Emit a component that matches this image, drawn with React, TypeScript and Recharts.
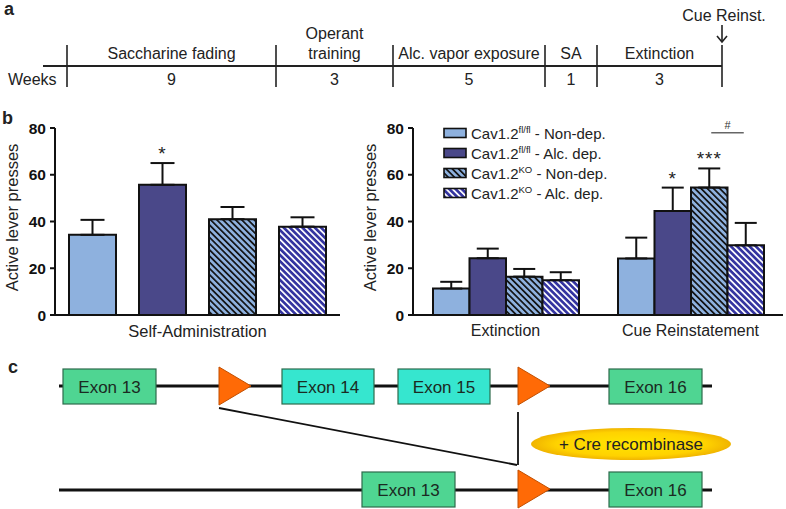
import React from 'react';
import { BarChart, Bar, XAxis, YAxis, ErrorBar, LabelList, Legend } from 'recharts';

const FONT = '"Liberation Sans", Arial, Helvetica, sans-serif';

// ---- panel a: timeline ----
const phaseLabels = [['Saccharine fading'], ['Operant', 'training'], ['Alc. vapor exposure'], ['SA'], ['Extinction']];
const phaseWeeks = ['9', '3', '5', '1', '3'];
const phaseEdges = [67, 276, 393, 545, 597, 722]; // x of the separators

// ---- panel b: bar charts ----
const seriesGeno = ['fl/fl', 'fl/fl', 'KO', 'KO'];
const seriesCond = ['Non-dep.', 'Alc. dep.', 'Non-dep.', 'Alc. dep.'];
const yTicks = [0, 20, 40, 60, 80];

const saCategories = ['Self-Administration'];
const saMeans = [[34.3, 55.7, 41.0, 37.8]];
const saErrors = [[6.4, 9.3, 5.2, 4.0]];
const saStars = [['', '*', '', '']];

const phaseCategories = ['Extinction', 'Cue Reinstatement'];
const phaseMeans = [
  [11.3, 24.3, 16.4, 14.9],
  [24.2, 44.5, 54.5, 29.8],
];
const phaseErrors = [
  [2.9, 4.1, 3.3, 3.4],
  [8.9, 10.0, 8.2, 9.6],
];
const phaseStars = [
  ['', '', '', ''],
  ['', '*', '***', ''],
];
const hashLevel = 78; // "#" bracket KO non-dep vs KO alc dep, cue reinstatement

const barFills = ['#8eb1de', '#4a4889', 'url(#hatchLight)', 'url(#hatchDark)'];

function buildRows(cats: string[], means: number[][], errs: number[][], stars: string[][]) {
  return cats.map((name, c) => {
    const row: any = { name };
    means[c].forEach((m, i) => {
      row[`s${i}`] = m;
      row[`e${i}`] = [0, errs[c][i]];
      row[`a${i}`] = stars[c][i];
    });
    return row;
  });
}

const saRows = buildRows(saCategories, saMeans, saErrors, saStars);
const phaseRows = buildRows(phaseCategories, phaseMeans, phaseErrors, phaseStars);

const starLabel = (rows: any[], i: number) => (props: any) => {
  const { x, y, width, height, index } = props;
  const row = rows[index];
  if (!row || !row[`a${i}`]) return null;
  const unit = Number(height) / row[`s${i}`];
  const top = Number(y) - row[`e${i}`][1] * unit;
  return (
    <text x={Number(x) + Number(width) / 2} y={top - 3} textAnchor="middle" fontSize={19}
      fontFamily={FONT} fill="#222" letterSpacing={1}>
      {row[`a${i}`]}
    </text>
  );
};

const hashLabel = (props: any) => {
  const { x, y, width, height, index } = props;
  if (index !== 1) return null;
  const row = phaseRows[index];
  const unit = Number(height) / row.s2;
  const ly = Number(y) + Number(height) - hashLevel * unit;
  const w = Number(width);
  return (
    <g>
      <line x1={Number(x) + w / 2 + 2} x2={Number(x) + w * 1.5 - 2} y1={ly} y2={ly} stroke="#666" strokeWidth={1.5} />
      <text x={Number(x) + w} y={ly - 4} textAnchor="middle" fontSize={11} fontFamily={FONT} fill="#333">#</text>
    </g>
  );
};

const yLabel = (dx: number) => (props: any) => {
  const vb = props.viewBox || {};
  const cx = vb.x + dx;
  const cy = vb.y + vb.height / 2 - 4;
  return (
    <text x={cx} y={cy} transform={`rotate(-90 ${cx} ${cy})`} textAnchor="middle" dominantBaseline="central"
      fontSize={16.5} fontFamily={FONT} fill="#222">
      Active lever presses
    </text>
  );
};

const renderLegend = () => (
  <div style={{ fontFamily: FONT, fontSize: 15, color: '#222' }}>
    {seriesGeno.map((g, i) => (
      <div key={i} style={{ display: 'flex', alignItems: 'center', height: 20, whiteSpace: 'nowrap' }}>
        <svg width={24} height={12} style={{ marginRight: 4 }}>
          <rect x={1} y={1.5} width={22} height={9} fill={barFills[i]} stroke="#111" strokeWidth={1.6} />
        </svg>
        <span>
          Cav1.2<sup style={{ fontSize: 9.5, verticalAlign: 'super', lineHeight: 0 }}>{g}</sup> - {seriesCond[i]}
        </span>
      </div>
    ))}
  </div>
);

const axisStroke = { stroke: '#111', strokeWidth: 2 };

function Bars(rows: any[], barSize: number, cap: number, withHash: boolean) {
  return [0, 1, 2, 3].map((i) => (
    <Bar key={i} dataKey={`s${i}`} name={`${seriesGeno[i]} ${seriesCond[i]}`} fill={barFills[i]}
      stroke="#111" strokeWidth={2} barSize={barSize} isAnimationActive={false}>
      <ErrorBar dataKey={`e${i}`} width={cap} stroke="#111" strokeWidth={2} direction="y" isAnimationActive={false} />
      <LabelList dataKey={`a${i}`} content={starLabel(rows, i)} />
      {withHash && i === 2 ? <LabelList dataKey="s2" content={hashLabel} /> : null}
    </Bar>
  ));
}

function Timeline() {
  return (
    <g fontFamily={FONT} fill="#222">
      <text x={4} y={15} fontSize={18} fontWeight={700}>a</text>
      <line x1={43} x2={722} y1={66} y2={66} stroke="#222" strokeWidth={2} />
      {phaseEdges.map((x, k) => (
        <line key={k} x1={x} x2={x} y1={45} y2={87} stroke="#222" strokeWidth={1.6} />
      ))}
      <text x={8} y={85} fontSize={16}>Weeks</text>
      {phaseLabels.map((lines, k) => {
        const cx = (phaseEdges[k] + phaseEdges[k + 1]) / 2;
        const base = lines.length === 2 ? 39 : 59;
        return (
          <g key={k}>
            {lines.map((t, j) => (
              <text key={j} x={cx} y={base + j * 20} textAnchor="middle" fontSize={16}>{t}</text>
            ))}
            <text x={cx} y={85} textAnchor="middle" fontSize={16}>{phaseWeeks[k]}</text>
          </g>
        );
      })}
      <text x={724} y={21} textAnchor="middle" fontSize={16}>Cue Reinst.</text>
      <line x1={722} x2={722} y1={25} y2={42} stroke="#222" strokeWidth={1.6} />
      <polyline points="717,36 722,42 727,36" fill="none" stroke="#222" strokeWidth={1.6} />
      <text x={2} y={124} fontSize={18} fontWeight={700}>b</text>
    </g>
  );
}

function Exon({ x, y, w, h, label, fill }: any) {
  return (
    <g>
      <rect x={x} y={y} width={w} height={h} fill={fill} stroke="#2e6b4c" strokeWidth={1.2} />
      <text x={x + w / 2} y={y + h / 2 + 6} textAnchor="middle" fontSize={17} fill="#1b2a22" fontFamily={FONT}>{label}</text>
    </g>
  );
}

function LoxP({ x, y }: any) {
  return <polygon points={`${x},${y} ${x + 32},${y + 19} ${x},${y + 38}`} fill="#ff6a06" stroke="#c24f00" strokeWidth={1} />;
}

function Construct() {
  const green = '#4fd592';
  const cyan = '#36e6cf';
  return (
    <g fontFamily={FONT}>
      <text x={8} y={373} fontSize={18} fontWeight={700} fill="#222">c</text>
      <line x1={59} x2={712} y1={386} y2={386} stroke="#111" strokeWidth={3} />
      <Exon x={63} y={369} w={93} h={35} label="Exon 13" fill={green} />
      <LoxP x={219} y={367} />
      <Exon x={282} y={369} w={92} h={35} label="Exon 14" fill={cyan} />
      <Exon x={398} y={369} w={92} h={35} label="Exon 15" fill={cyan} />
      <LoxP x={518} y={367} />
      <Exon x={609} y={369} w={93} h={35} label="Exon 16" fill={green} />
      <line x1={219} y1={408} x2={517} y2={465} stroke="#111" strokeWidth={1.8} />
      <line x1={518} y1={412} x2={518} y2={465} stroke="#111" strokeWidth={1.8} />
      <ellipse cx={631} cy={444} rx={100} ry={16} fill="url(#creGlow)" />
      <text x={631} y={450} textAnchor="middle" fontSize={17} fill="#222">+ Cre recombinase</text>
      <line x1={59} x2={712} y1={490} y2={490} stroke="#111" strokeWidth={3} />
      <Exon x={362} y={472} w={93} h={35} label="Exon 13" fill={green} />
      <LoxP x={518} y={470} />
      <Exon x={609} y={472} w={93} h={35} label="Exon 16" fill={green} />
    </g>
  );
}

export default function App() {
  return (
    <div style={{ position: 'absolute', left: 0, top: 0, width: 786, height: 509, background: '#fff', fontFamily: FONT, overflow: 'hidden' }}>
      <svg width={786} height={509} style={{ position: 'absolute', left: 0, top: 0 }}>
        <defs>
          <pattern id="hatchLight" patternUnits="userSpaceOnUse" width={4.4} height={4.4} patternTransform="rotate(-45)">
            <rect width={4.4} height={4.4} fill="#8eb1de" />
            <rect width={1.7} height={4.4} fill="#111" />
          </pattern>
          <pattern id="hatchDark" patternUnits="userSpaceOnUse" width={4.4} height={4.4} patternTransform="rotate(-45)">
            <rect width={4.4} height={4.4} fill="#3434a0" />
            <rect width={1.7} height={4.4} fill="#fff" />
          </pattern>
          <radialGradient id="creGlow" cx="50%" cy="50%" r="50%">
            <stop offset="0%" stopColor="#ffe600" />
            <stop offset="75%" stopColor="#ffd200" />
            <stop offset="100%" stopColor="#f0b400" />
          </radialGradient>
        </defs>
        <Timeline />
        <Construct />
      </svg>

      <div style={{ position: 'absolute', left: 0, top: 110 }}>
        <BarChart width={345} height={230} data={saRows} margin={{ top: 18, right: 5, left: 0, bottom: 0 }} barGap={23}>
          <XAxis dataKey="name" height={25} axisLine={axisStroke} tickLine={false} tickMargin={4}
            tick={{ fontSize: 16.5, fill: '#222', fontFamily: FONT }} />
          <YAxis width={55} domain={[0, 80]} ticks={yTicks} axisLine={axisStroke} tickLine={axisStroke}
            tickSize={5} tickMargin={4} tick={{ fontSize: 15.5, fontWeight: 700, fill: '#111', fontFamily: FONT }}
            label={{ content: yLabel(12) }} />
          {Bars(saRows, 47, 12, false)}
        </BarChart>
      </div>

      <div style={{ position: 'absolute', left: 360, top: 110 }}>
        <BarChart width={426} height={230} data={phaseRows} margin={{ top: 18, right: 3, left: 0, bottom: 0 }} barGap={0}>
          <XAxis dataKey="name" height={25} axisLine={axisStroke} tickLine={false} tickMargin={4}
            tick={{ fontSize: 16, fill: '#222', fontFamily: FONT }} />
          <YAxis width={53} domain={[0, 80]} ticks={yTicks} axisLine={axisStroke} tickLine={axisStroke}
            tickSize={5} tickMargin={4} tick={{ fontSize: 15.5, fontWeight: 700, fill: '#111', fontFamily: FONT }}
            label={{ content: yLabel(10) }} />
          <Legend layout="horizontal" verticalAlign="middle" align="center" content={renderLegend}
            wrapperStyle={{ left: 83, top: 13, width: 'auto', height: 'auto' }} />
          {Bars(phaseRows, 36.5, 11, true)}
        </BarChart>
      </div>
    </div>
  );
}
